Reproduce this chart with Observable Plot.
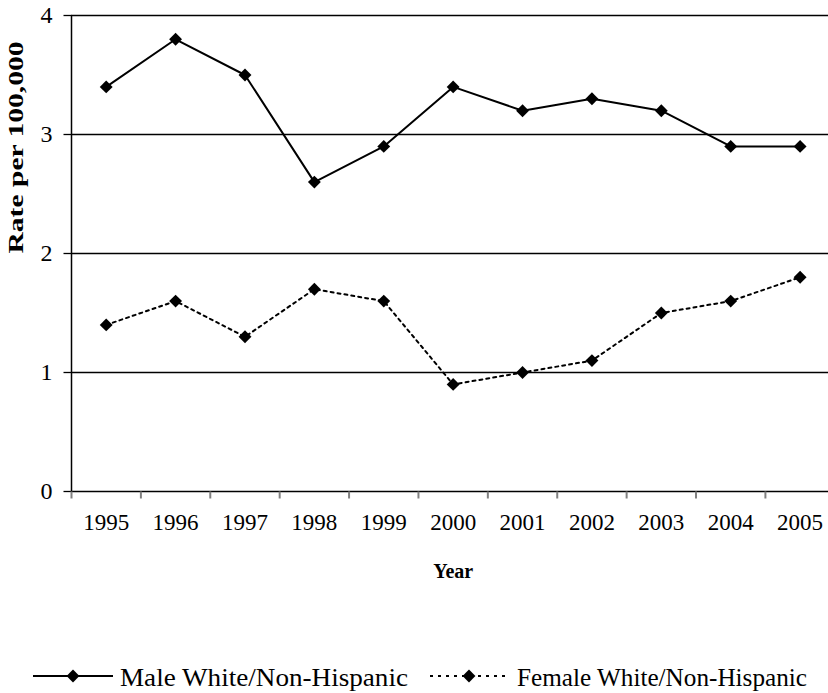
<!DOCTYPE html>
<html>
<head>
<meta charset="utf-8">
<script src="https://cdn.jsdelivr.net/npm/d3@7"></script>
<script src="https://cdn.jsdelivr.net/npm/@observablehq/plot@0.6"></script>
<style>
  body { margin: 0; background: #fff; font-family: 'Liberation Serif', serif; }
  #chart svg, #legend svg { display: block; }
  svg text { font-family: 'Liberation Serif', serif !important; }
</style>
</head>
<body>
<div id="chart"></div>
<div id="legend"></div>
<script>
const years = [1995, 1996, 1997, 1998, 1999, 2000, 2001, 2002, 2003, 2004, 2005];
const maleRates = [3.4, 3.8, 3.5, 2.6, 2.9, 3.4, 3.2, 3.3, 3.2, 2.9, 2.9];
const femaleRates = [1.4, 1.6, 1.3, 1.7, 1.6, 0.9, 1.0, 1.1, 1.5, 1.6, 1.8];
const seriesNames = ["Male White/Non-Hispanic", "Female White/Non-Hispanic"];
const yTicks = [0, 1, 2, 3, 4];
const yTitle = "Rate per 100,000";
const xTitle = "Year";

const male = years.map((y, i) => ({year: y, rate: maleRates[i]}));
const female = years.map((y, i) => ({year: y, rate: femaleRates[i]}));
const boundaries = years.map(y => y - 0.5);
const FONT = "Liberation Serif";

// custom renderer: replace each link path by a short horizontal/vertical stub
const stub = (dir, len) => (index, scales, values, dims, ctx, next) => {
  const g = next(index, scales, values, dims, ctx);
  d3.select(g).selectAll("path").attr("d", (_, k) => {
    const i = index[k];
    const x = values.x1[i], y = values.y1[i];
    return dir === "left" ? `M${x - len},${y}H${x}` : `M${x},${y}V${y + len}`;
  });
  return g;
};
// stretch text along its baseline to a given length
const stretch = (len) => (index, scales, values, dims, ctx, next) => {
  const g = next(index, scales, values, dims, ctx);
  d3.select(g).selectAll("text").attr("textLength", len).attr("lengthAdjust", "spacingAndGlyphs");
  return g;
};

const chart = Plot.plot({
  width: 828,
  height: 610,
  marginLeft: 71,
  marginRight: 0,
  marginTop: 15,
  marginBottom: 119,
  style: {fontFamily: "'Liberation Serif', serif", background: "#fff", color: "#000"},
  x: {type: "linear", domain: [1994.5, 2005.5], range: [71, 834.3], axis: null},
  y: {domain: [0, 4], axis: null},
  marks: [
    Plot.ruleY(yTicks.filter(d => d > 0), {stroke: "#000", strokeWidth: 1.3}),
    Plot.ruleY([0], {stroke: "#000", strokeWidth: 1.5}),
    Plot.ruleX([1994.5], {stroke: "#000", strokeWidth: 1.5}),
    Plot.link(yTicks, {x1: () => 1994.5, x2: () => 1994.5, y1: d => d, y2: d => d, stroke: "#000", strokeWidth: 1.3, render: stub("left", 8)}),
    Plot.text(yTicks, {x: () => 1994.5, y: d => d, text: d => String(d), dx: -19, textAnchor: "end", fontSize: 24, fontFamily: FONT}),
    Plot.link(boundaries, {x1: d => d, x2: d => d, y1: () => 0, y2: () => 0, stroke: "#808080", strokeWidth: 2, render: stub("down", 7)}),
    Plot.text(years, {x: d => d, frameAnchor: "bottom", dy: 38, text: d => String(d), fontSize: 23, fontFamily: FONT}),
    Plot.text([xTitle], {x: () => 2000, frameAnchor: "bottom", dy: 86, fontSize: 20, fontWeight: "bold", fontFamily: FONT}),
    Plot.text([yTitle], {frameAnchor: "left", dx: -55, dy: 0, rotate: -90, fontSize: 20, fontWeight: "bold", fontFamily: FONT, render: stretch(212)}),
    Plot.line(male, {x: "year", y: "rate", stroke: "#000", strokeWidth: 2}),
    Plot.line(female, {x: "year", y: "rate", stroke: "#000", strokeWidth: 2, strokeDasharray: "3,4"}),
    Plot.dot(male, {x: "year", y: "rate", symbol: "diamond2", r: 5.8, fill: "#000", stroke: "none"}),
    Plot.dot(female, {x: "year", y: "rate", symbol: "diamond2", r: 5.8, fill: "#000", stroke: "none"})
  ]
});
document.getElementById("chart").appendChild(chart);

// legend below the chart
const items = [
  {name: seriesNames[0], x0: 33, x1: 113, text: 120, len: 288, dash: null},
  {name: seriesNames[1], x0: 430, x1: 508, text: 517, len: 290, dash: "3,5"}
];
const lg = d3.create("svg").attr("width", 828).attr("height", 83);
for (const it of items) {
  const cy = 66;
  lg.append("line").attr("x1", it.x0).attr("x2", it.x1).attr("y1", cy).attr("y2", cy)
    .attr("stroke", "#000").attr("stroke-width", 2).attr("stroke-dasharray", it.dash);
  lg.append("path").attr("d", d3.symbol(d3.symbolDiamond2, 106)())
    .attr("transform", `translate(${(it.x0 + it.x1) / 2},${cy})`).attr("fill", "#000");
  lg.append("text").attr("x", it.text).attr("y", cy + 10).attr("font-size", 25)
    .attr("font-family", FONT).attr("fill", "#000")
    .attr("textLength", it.len).attr("lengthAdjust", "spacingAndGlyphs").text(it.name);
}
document.getElementById("legend").appendChild(lg.node());
</script>
</body>
</html>
